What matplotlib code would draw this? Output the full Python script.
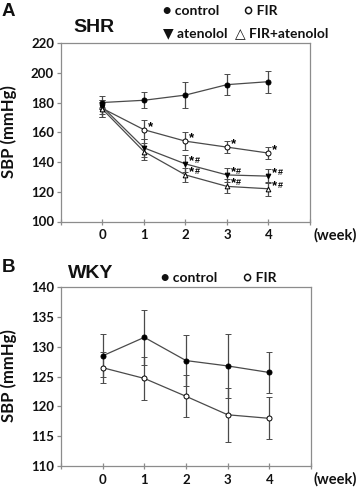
import matplotlib
matplotlib.use("Agg")
import matplotlib.pyplot as plt

weeks = [0, 1, 2, 3, 4]

# Panel A (SHR)
shr_control = [180.0, 181.5, 185.0, 192.0, 194.0]
shr_control_err = [4.7, 5.5, 8.5, 7.0, 7.3]
shr_fir = [176.0, 161.7, 154.0, 150.0, 146.0]
shr_fir_err = [6.0, 6.3, 6.0, 4.2, 4.3]
shr_aten = [177.0, 149.5, 138.7, 131.3, 130.5]
shr_aten_err = [5.0, 6.0, 5.7, 4.5, 4.6]
shr_firaten = [175.5, 147.0, 131.3, 123.6, 122.0]
shr_firaten_err = [5.0, 5.5, 4.5, 4.7, 4.8]
shr_fir_sig = ["", "*", "*", "*", "*"]
shr_aten_sig = ["", "", "*#", "*#", "*#"]
shr_firaten_sig = ["", "", "*#", "*#", "*#"]

# Panel B (WKY)
wky_control = [128.5, 131.6, 127.7, 126.8, 125.7]
wky_control_err = [3.6, 4.6, 4.3, 5.4, 3.5]
wky_fir = [126.5, 124.7, 121.7, 118.6, 118.0]
wky_fir_err = [2.6, 3.6, 3.5, 4.5, 3.5]

yticks_a = [100, 120, 140, 160, 180, 200, 220]
yticks_b = [110, 115, 120, 125, 130, 135, 140]
xtick_labels = ["", "0", "1", "2", "3", "4", ""]

TICKF = ["Lato", "DejaVu Sans"]
ARIAL = ["Liberation Sans", "DejaVu Sans"]
LINE = "#4a4a4a"
SPINE = "#8c8c8c"

fig = plt.figure(figsize=(3.58, 4.88), dpi=100)
W, H = 358, 488


def make_ax(l, t, r, b):
    return fig.add_axes([l / W, 1 - b / H, (r - l) / W, (b - t) / H])


def style(ax, yticks):
    ax.set_xlim(-1, 5)
    ax.set_ylim(yticks[0], yticks[-1])
    ax.set_xticks(range(-1, 6))
    ax.set_xticklabels(xtick_labels)
    ax.set_yticks(yticks)
    ax.set_yticklabels([str(v) for v in yticks])
    for s in ax.spines.values():
        s.set_color(SPINE)
        s.set_linewidth(0.9)
    ax.tick_params(axis="x", direction="inout", length=5, width=0.9, color=SPINE, pad=3)
    ax.tick_params(axis="y", direction="out", length=3, width=0.9, color=SPINE, pad=2)
    for lab in ax.get_xticklabels() + ax.get_yticklabels():
        lab.set_fontfamily(TICKF)
        lab.set_fontweight("bold")
        lab.set_fontsize(9.5)
        lab.set_color("#111111")


def series(ax, y, err, face, marker="o", ms=3.6):
    ax.errorbar(weeks, y, yerr=err, color=LINE, lw=0.9, ecolor=LINE,
                elinewidth=0.9, capsize=2.5, capthick=0.9, marker=marker,
                ms=ms, mfc=face, mec="black", mew=0.7, zorder=3)


def sig(ax, y, labels):
    for xi, yi, s in zip(weeks, y, labels):
        if s:
            ax.annotate(s[0], (xi, yi), xytext=(2.5, 2), textcoords="offset points",
                        ha="left", va="center", fontsize=9.5, fontweight="bold",
                        family=ARIAL, color="black")
            if len(s) > 1:
                ax.annotate(s[1:], (xi, yi), xytext=(6.6, 2.5), textcoords="offset points",
                            ha="left", va="center", fontsize=6.5, fontweight="bold",
                            family=ARIAL, color="black")


# Panel A
axA = make_ax(61, 43, 310, 221.5)
series(axA, shr_control, shr_control_err, "black")
series(axA, shr_fir, shr_fir_err, "white")
series(axA, shr_aten, shr_aten_err, "black", marker="v", ms=3.4)
series(axA, shr_firaten, shr_firaten_err, "white", marker="^", ms=3.4)
sig(axA, shr_fir, shr_fir_sig)
sig(axA, shr_aten, shr_aten_sig)
sig(axA, shr_firaten, shr_firaten_sig)
style(axA, yticks_a)

# Panel B
axB = make_ax(61, 287.3, 311, 466)
series(axB, wky_control, wky_control_err, "black")
series(axB, wky_fir, wky_fir_err, "white")
style(axB, yticks_b)


def ftext(x, y, s, size, fam, ha="left", rot=0):
    fig.text(x / W, 1 - y / H, s, fontsize=size, fontweight="bold",
             family=fam, ha=ha, va="center", rotation=rot, color="#111111")


ftext(2, 11, "A", 13.5, ARIAL)
ftext(73, 27, "SHR", 14, ARIAL)
ftext(2, 268, "B", 13.5, ARIAL)
ftext(68, 273, "WKY", 14, ARIAL)

ftext(9, 132, "SBP (mmHg)", 12, TICKF, ha="center", rot=90)
ftext(9, 376, "SBP (mmHg)", 12, TICKF, ha="center", rot=90)

ftext(313, 235, "(week)", 10.5, TICKF)
ftext(313, 479, "(week)", 10.5, TICKF)

LEG = ["Lato", "DejaVu Sans"]
ftext(163, 11, "\u25CF control", 10, LEG)
ftext(244, 11, "\u25CB FIR", 10, LEG)
ftext(163, 33, "\u25BC atenolol", 10, LEG)
ftext(235, 33, "\u25B3 FIR+atenolol", 10, LEG)
ftext(161, 278, "\u25CF control", 10, LEG)
ftext(243, 278, "\u25CB FIR", 10, LEG)

fig.savefig("out.png", dpi=100)
